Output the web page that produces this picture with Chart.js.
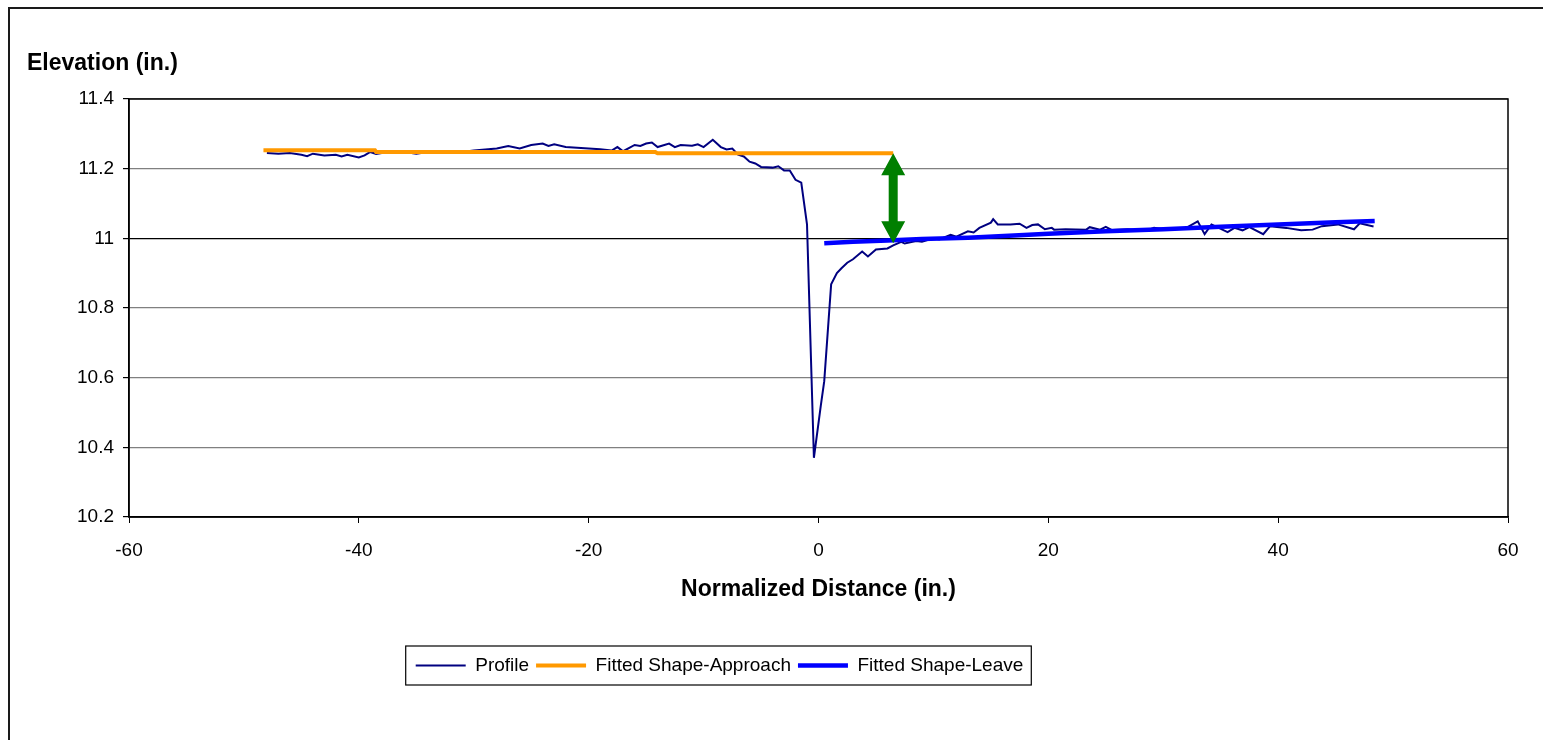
<!DOCTYPE html>
<html>
<head>
<meta charset="utf-8">
<script src="https://cdn.jsdelivr.net/npm/chart.js@4/dist/chart.umd.min.js"></script>
<style>
    body { margin: 0; background: #fff; overflow: hidden; }
    #wrap { position: relative; width: 1543px; height: 740px; }
    #frame { position: absolute; left: 8px; top: 7px; width: 1700px; height: 900px; border: 2px solid #1a1a1a; }
    #chart { position: absolute; left: 0; top: 0; }
</style>
</head>
<body>
<div id="wrap">
    <div id="frame"></div>
    <canvas id="chart" width="1543" height="740"></canvas>
</div>
<script>
'use strict';

// measured profile (x = normalized distance, y = elevation)
const profileX = [-48, -47, -46, -45, -44.5, -44, -43, -42, -41.5, -41, -40, -39.5, -39, -38.5, -38, -37, -36, -35, -34, -33,
    -32, -31, -30, -29, -28, -27, -26, -25, -24, -23.5, -23, -22, -21, -20, -19, -18, -17.5, -17, -16, -15.5,
    -15, -14.5, -14, -13, -12.5, -12, -11, -10.5, -10, -9.2, -8.5, -8, -7.5, -7, -6.5, -6, -5.5, -5, -4, -3.5,
    -3, -2.5, -2, -1.5, -1, -0.4, 0.2, 0.5, 1.1, 1.6, 2, 2.5, 3, 3.8, 4.3, 5, 6, 6.5, 7.2, 7.5,
    8.5, 9, 10, 10.5, 11.5, 12, 13, 13.5, 14, 15, 15.2, 15.6, 16.7, 17.5, 18.1, 18.6, 19.1, 19.7, 20.3, 20.5,
    21.5, 23.3, 23.6, 24.5, 25, 25.5, 26.9, 28.5, 29.2, 30.5, 32, 33, 33.6, 34.2, 35.6, 36.2, 36.9, 37.5, 38.7, 39.3,
    40.7, 42, 43, 43.8, 45.2, 46.6, 47.1, 48.3];
const profileY = [11.245, 11.243, 11.245, 11.24, 11.236, 11.243, 11.238, 11.24, 11.235, 11.24, 11.232, 11.238, 11.248, 11.242, 11.245, 11.25, 11.248, 11.243, 11.248, 11.245,
    11.25, 11.248, 11.252, 11.255, 11.258, 11.265, 11.258, 11.268, 11.272, 11.265, 11.27, 11.262, 11.26, 11.258, 11.256, 11.252, 11.262, 11.25, 11.268, 11.265,
    11.272, 11.275, 11.262, 11.272, 11.262, 11.268, 11.266, 11.27, 11.262, 11.283, 11.262, 11.255, 11.258, 11.24, 11.235, 11.22, 11.215, 11.205, 11.203, 11.207,
    11.195, 11.195, 11.168, 11.16, 11.04, 10.37, 10.52, 10.59, 10.868, 10.9, 10.914, 10.93, 10.94, 10.962, 10.948, 10.968, 10.971, 10.98, 10.99, 10.985,
    10.992, 10.99, 11.0, 10.997, 11.01, 11.005, 11.02, 11.017, 11.03, 11.045, 11.055, 11.04, 11.04, 11.042, 11.03, 11.038, 11.04, 11.026, 11.03, 11.025,
    11.026, 11.025, 11.032, 11.025, 11.033, 11.024, 11.026, 11.022, 11.03, 11.024, 11.03, 11.049, 11.012, 11.04, 11.018, 11.03, 11.023, 11.032, 11.012, 11.035,
    11.03, 11.023, 11.025, 11.035, 11.04, 11.026, 11.043, 11.034];

// fitted shapes
const approachX = [-48.3, -38.6, -38.5, -14.2, -14.0, 6.5];
const approachY = [11.253, 11.253, 11.248, 11.248, 11.244, 11.244];
const leaveX = [0.5, 3, 6, 9, 13, 17, 20, 25, 30, 35, 40, 45, 48.4];
const leaveY = [10.986, 10.99, 10.994, 10.998, 11.002, 11.008, 11.013, 11.02, 11.026, 11.033, 11.04, 11.046, 11.05];

// step marker between the two fits
const stepX = 6.5;
const stepFrom = 11.244;
const stepTo = 10.986;

const xTicks = [-60, -40, -20, 0, 20, 40, 60];
const yTicks = [10.2, 10.4, 10.6, 10.8, 11, 11.2, 11.4];

function zip(xs, ys){
    return xs.map((x, i) => ({x: x, y: ys[i]}));
}

const FONT = '"Liberation Sans", Arial, sans-serif';
const LEGEND_SHIFT = -39; // legend sits left of centre in the original

const frameAndLabels = {
    id: 'frameAndLabels',
    afterUpdate(chart){
        // move the legend row to the left
        const lg = chart.legend;
        lg.left += LEGEND_SHIFT;
        lg.right += LEGEND_SHIFT;
        lg.legendHitBoxes.forEach(b => { b.left += LEGEND_SHIFT; });
    },
    afterDatasetsDraw(chart){
        const c = chart.ctx;
        const a = chart.chartArea;
        const xs = chart.scales.x;
        const ys = chart.scales.y;

        // plot frame
        c.save();
        c.strokeStyle = '#000';
        c.lineWidth = 1.5;
        c.strokeRect(a.left, a.top, a.right - a.left, a.bottom - a.top);

        // double-headed arrow
        const px = xs.getPixelForValue(stepX);
        const y1 = ys.getPixelForValue(stepFrom);
        const y2 = ys.getPixelForValue(stepTo);
        const head = 22, halfHead = 12, halfShaft = 4.5;
        c.fillStyle = '#007f00';
        c.beginPath();
        c.moveTo(px, y1);
        c.lineTo(px + halfHead, y1 + head);
        c.lineTo(px + halfShaft, y1 + head);
        c.lineTo(px + halfShaft, y2 - head);
        c.lineTo(px + halfHead, y2 - head);
        c.lineTo(px, y2);
        c.lineTo(px - halfHead, y2 - head);
        c.lineTo(px - halfShaft, y2 - head);
        c.lineTo(px - halfShaft, y1 + head);
        c.lineTo(px - halfHead, y1 + head);
        c.closePath();
        c.fill();

        // y axis title, horizontal above the axis
        c.fillStyle = '#000';
        c.font = 'bold 23px ' + FONT;
        c.textAlign = 'left';
        c.textBaseline = 'middle';
        c.fillText('Elevation (in.)', a.left - 102, a.top - 35);
        c.restore();
    },
    afterDraw(chart){
        // box around the legend
        const boxes = chart.legend.legendHitBoxes;
        if(!boxes || !boxes.length) return;
        const first = boxes[0];
        const last = boxes[boxes.length - 1];
        const c = chart.ctx;
        c.save();
        c.strokeStyle = '#000';
        c.lineWidth = 1.2;
        c.strokeRect(first.left - 10, first.top - 10, last.left + last.width - first.left + 18, first.height + 20);
        c.restore();
    }
};

const ctx = document.getElementById('chart');

const wykres = new Chart(ctx, {
    type: 'line',
    data: {
        datasets: [{
            label: 'Profile',
            data: zip(profileX, profileY),
            borderColor: '#000080',
            backgroundColor: '#000080',
            borderWidth: 2,
            order: 1,
        }, {
            label: 'Fitted Shape-Approach',
            data: zip(approachX, approachY),
            borderColor: '#ff9900',
            backgroundColor: '#ff9900',
            borderWidth: 4,
            order: 0,
        }, {
            label: 'Fitted Shape-Leave',
            data: zip(leaveX, leaveY),
            borderColor: '#0000ff',
            backgroundColor: '#0000ff',
            borderWidth: 4.5,
            order: 0,
        }]
    },
    options: {
        responsive: false,
        animation: false,
        events: [],
        elements: {
            point: { radius: 0 },
            line: { tension: 0, fill: false }
        },
        layout: {
            padding: { left: 9, top: 99, right: 35, bottom: 55 }
        },
        plugins: {
            tooltip: { enabled: false },
            legend: {
                position: 'bottom',
                labels: {
                    usePointStyle: true,
                    pointStyle: 'line',
                    boxWidth: 50,
                    pointStyleWidth: 50,
                    padding: 7,
                    color: '#000',
                    font: { family: FONT, size: 19 },
                    sort: (a, b) => a.datasetIndex - b.datasetIndex
                }
            }
        },
        scales: {
            x: {
                type: 'linear',
                min: -60,
                max: 60,
                afterBuildTicks: scale => { scale.ticks = xTicks.map(v => ({value: v})); },
                afterFit: scale => { scale.height = 132; },
                grid: { drawOnChartArea: false, drawTicks: true, tickLength: 6, tickColor: '#000' },
                border: { display: true, color: '#000', width: 1.5 },
                ticks: {
                    color: '#000',
                    padding: 16,
                    maxRotation: 0,
                    font: { family: FONT, size: 19 },
                    callback: v => String(v)
                },
                title: {
                    display: true,
                    text: 'Normalized Distance (in.)',
                    color: '#000',
                    font: { family: FONT, size: 23, weight: 'bold' },
                    padding: { top: 4, bottom: 46 }
                }
            },
            y: {
                min: 10.2,
                max: 11.4,
                afterBuildTicks: scale => { scale.ticks = yTicks.map(v => ({value: v})); },
                afterFit: scale => { scale.width = 120; },
                grid: {
                    color: c => (c.tick && c.tick.value === 11) ? '#000' : '#808080',
                    lineWidth: 1.2,
                    tickLength: 6,
                    tickColor: '#000'
                },
                border: { display: true, color: '#000', width: 1.5 },
                ticks: {
                    color: '#000',
                    padding: 9,
                    font: { family: FONT, size: 19 },
                    callback: v => String(v)
                }
            }
        }
    },
    plugins: [frameAndLabels]
});
</script>
</body>
</html>
